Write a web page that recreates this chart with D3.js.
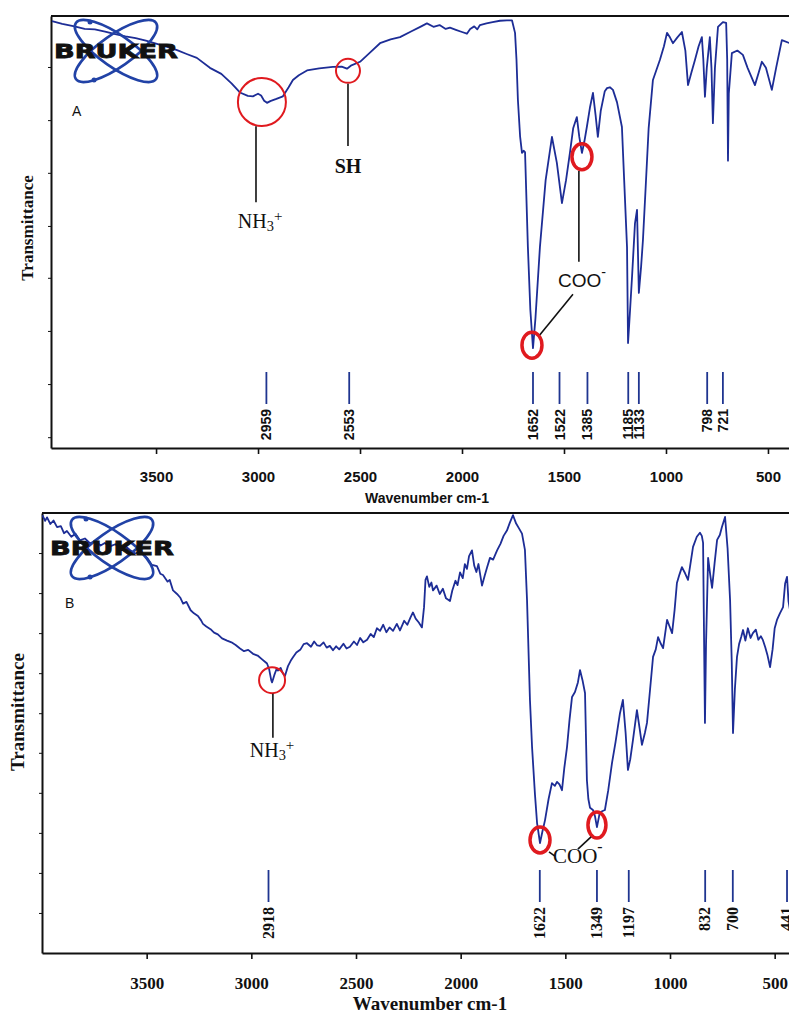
<!DOCTYPE html>
<html>
<head>
<meta charset="utf-8">
<script src="https://cdn.jsdelivr.net/npm/d3@7"></script>
<style>
  body { margin: 0; background: #fff; }
  svg { display: block; }
</style>
</head>
<body>
<div id="chart"></div>
<script>
// wavenumber ticks shared by both spectra
const xTicks = [3500, 3000, 2500, 2000, 1500, 1000, 500];

// spectrum A : [wavenumber, transmittance (0-100, arbitrary)]
const specA = [
  [4010,98.8],[3960,98.2],[3900,97.6],[3850,97.0],[3800,96.9],[3750,96.4],[3700,95.8],[3650,95.3],
  [3600,94.9],[3550,94.3],[3500,93.6],[3450,92.9],[3397,92.1],[3350,91.2],[3300,90.3],[3236,88.0],
  [3180,86.6],[3130,84.4],[3089,82.3],[3050,81.5],[3025,81.4],[3000,82.0],[2985,81.6],[2970,80.4],
  [2956,79.9],[2940,80.3],[2910,80.8],[2878,81.4],[2850,83.5],[2829,85.2],[2800,86.3],[2760,87.4],
  [2700,87.9],[2633,88.2],[2590,88.3],[2564,87.8],[2545,88.5],[2500,89.4],[2450,91.6],[2402,93.7],
  [2350,94.6],[2304,95.1],[2250,96.4],[2200,97.6],[2172,98.3],[2140,97.5],[2110,97.9],[2080,97.0],
  [2059,97.3],[2030,96.8],[2000,96.3],[1976,95.9],[1960,97.0],[1940,97.6],[1925,96.9],[1912,97.9],
  [1880,98.3],[1850,98.6],[1814,98.9],[1780,99.0],[1755,99.0],[1740,96.1],[1733,90],[1726,80.6],
  [1715,72],[1706,68.3],[1698,68.8],[1691,68.5],[1677,46.5],[1665,32],[1652,23.1],[1640,30],
  [1618,46.5],[1590,62],[1559,72.0],[1535,66],[1510,56.7],[1490,62],[1471,68.3],[1455,74],
  [1437,76.6],[1425,72],[1412,68.3],[1400,71],[1388,74.3],[1372,79],[1358,82.2],[1345,77],
  [1334,72.0],[1320,78],[1300,82.6],[1289,83.3],[1275,83.5],[1260,82.9],[1240,80],[1216,74.3],
  [1205,62],[1191,46.5],[1186,24.3],[1176,32],[1166,40],[1152,52],[1142,55.1],[1133,35.9],
  [1122,42],[1113,48.1],[1100,60],[1085,74],[1064,85.2],[1030,89.8],[1010,93],[995,96.1],
  [980,95],[966,93.7],[945,95],[922,96.3],[905,92],[892,84.0],[875,87],[858,89.8],[840,93],
  [824,95.1],[817,90],[809,81.3],[800,88],[785,95.1],[777,88],[770,75.2],[760,88],[745,97.5],
  [721,98.6],[705,98.4],[700,90],[696,66.5],[692,82],[677,91.4],[650,92],[623,91.0],[600,88],
  [564,84.0],[545,87],[530,89.4],[510,88],[481,82.9],[460,88],[432,94.4],[392,93.7]
];
const peaksA = [2959, 2553, 1652, 1522, 1385, 1185, 1133, 798, 721];
const yTicksA = [88.2, 75.9, 63.7, 51.4, 39.4, 27.1, 14.8, 2.5];

// spectrum B
const specB = [
  [3998,99.5],[3985,98.2],[3976,99.0],[3960,97.5],[3945,98.3],[3928,96.8],[3910,97.0],[3895,95.4],
  [3881,95.9],[3860,94.6],[3840,95.3],[3820,93.8],[3795,94.2],[3770,93.1],[3745,93.6],[3720,92.6],
  [3700,93.2],[3675,92.4],[3650,92.9],[3620,91.9],[3600,92.4],[3580,91.6],[3555,90.8],[3530,91.2],
  [3498,89.8],[3475,88.2],[3451,87.9],[3435,86.2],[3422,85.9],[3400,84.4],[3390,84.8],[3374,82.4],
  [3355,81.6],[3340,80.8],[3326,79.4],[3310,79.8],[3290,77.9],[3274,77.2],[3255,76.6],[3240,75.6],
  [3231,74.8],[3215,74.2],[3195,73.6],[3178,72.8],[3160,72.4],[3140,71.5],[3116,71.0],[3095,70.6],
  [3075,70.0],[3054,69.2],[3035,68.6],[3015,68.9],[2992,68.0],[2970,67.6],[2950,66.8],[2935,66.2],
  [2925,65.8],[2915,64.5],[2905,62.0],[2901,61.5],[2890,63.2],[2880,64.5],[2873,64.2],[2860,64.8],
  [2850,63.6],[2839,63.0],[2825,65.2],[2812,66.4],[2801,67.2],[2785,68.3],[2765,69.0],[2750,70.2],
  [2734,70.4],[2715,69.6],[2700,70.8],[2685,69.9],[2672,69.8],[2655,70.6],[2640,69.4],[2625,69.8],
  [2610,68.8],[2595,69.7],[2580,69.0],[2560,70.3],[2545,69.2],[2529,69.6],[2510,70.8],[2495,70.0],
  [2480,71.6],[2465,70.6],[2447,71.2],[2430,72.5],[2415,71.8],[2400,73.8],[2385,73.2],[2370,74.6],
  [2355,72.9],[2340,74.0],[2323,73.2],[2305,74.8],[2290,73.3],[2270,75.5],[2255,74.6],[2240,76.2],
  [2228,77.4],[2215,76.0],[2200,75.1],[2185,74.0],[2175,78.6],[2168,84.8],[2161,85.6],[2150,83.2],
  [2140,84.2],[2132,82.4],[2115,83.5],[2100,81.6],[2085,82.8],[2070,80.6],[2051,80.0],[2040,82.4],
  [2025,84.6],[2015,83.6],[2003,86.5],[1990,85.2],[1980,88.4],[1970,87.3],[1960,90.2],[1946,91.5],
  [1935,88.0],[1925,86.6],[1915,88.4],[1898,83.5],[1885,85.8],[1874,87.6],[1860,89.8],[1845,89.4],
  [1826,91.5],[1810,93.0],[1795,94.8],[1779,96.0],[1765,97.8],[1750,99.5],[1735,97.6],[1720,96.4],
  [1707,95.3],[1693,91.6],[1683,80.2],[1669,57.5],[1659,46.8],[1645,36],[1635,29.5],[1621,25.0],
  [1610,27.5],[1597,30.2],[1580,35],[1564,38.6],[1550,38.0],[1540,38.9],[1528,38.3],[1516,37.0],
  [1505,42],[1492,46.8],[1480,53],[1468,58.2],[1454,59.3],[1440,61.5],[1430,64.3],[1418,62],
  [1406,59.1],[1397,39.3],[1390,35],[1382,33.0],[1368,32.5],[1358,31],[1349,28.6],[1335,32.0],
  [1311,32.5],[1295,37],[1277,43.2],[1260,48],[1239,54.5],[1225,57.5],[1212,50],[1201,41.6],
  [1190,44],[1177,48.4],[1158,55.2],[1145,51],[1134,47.3],[1120,50],[1110,52.3],[1095,60],
  [1081,67.3],[1068,69],[1057,71.8],[1045,70.4],[1033,69.3],[1014,75.7],[1002,74.2],[990,72.7],
  [978,78],[967,84.1],[955,86.0],[943,87.7],[928,86.3],[914,84.8],[900,89.2],[890,92.3],
  [872,94.6],[857,95.5],[848,94.8],[842,93.2],[837,70],[833,52.3],[828,70],[818,89.8],[808,86.0],
  [799,83.0],[787,88.6],[775,93.9],[762,95.0],[752,96.8],[737,99.1],[725,92],[713,80.2],[705,66],
  [699,50.0],[690,60],[680,67.3],[670,70.2],[660,71.8],[651,73.4],[640,71.0],[628,73.8],[615,71.6],
  [604,72.7],[590,73.5],[578,71.2],[566,72.0],[556,71.1],[545,69.5],[535,67.8],[522,65.0],[510,69],
  [500,73.8],[489,75.7],[475,77.2],[460,78.6],[450,84],[441,85.5],[434,80],[427,78.0]
];
const peaksB = [2918, 1622, 1349, 1197, 832, 700, 441];
const yTicksB = [90.9, 81.8, 72.7, 63.6, 54.5, 45.5, 36.4, 27.3, 18.2, 9.1];

const LINE = '#1d2d96';
const RED = '#e01a1f';

var svg = d3.select('#chart').append('svg')
    .attr('width', 789)
    .attr('height', 1016)
    .style('background', '#fff');

function logo(cx, cy) {
    var lg = svg.append('g').attr('transform', `translate(${cx},${cy})`);
    [35, -35].forEach(a => {
        lg.append('ellipse')
            .attr('rx', 49).attr('ry', 16)
            .attr('transform', `rotate(${a})`)
            .attr('fill', 'none')
            .attr('stroke', '#2142a6')
            .attr('stroke-width', 2.6);
    });
    lg.append('circle').attr('cx', -22).attr('cy', 29).attr('r', 2.5).attr('fill', '#2142a6');
    lg.append('circle').attr('cx', -26).attr('cy', -29).attr('r', 2.5).attr('fill', '#2142a6');
    lg.append('text')
        .attr('x', -62).attr('y', 7)
        .attr('textLength', 124).attr('lengthAdjust', 'spacingAndGlyphs')
        .style('font', 'bold 19px "DejaVu Sans"')
        .attr('fill', '#111').attr('stroke', '#111').attr('stroke-width', 0.8)
        .text('BRUKER');
}

// text with a subscript / superscript part, e.g. NH3+ or COO-
function chemText(sel, parts, size) {
    parts.forEach(p => {
        var t = sel.append('tspan').text(p[0]);
        if (p[1] == 'sub') t.attr('font-size', size * 0.72).attr('dy', size * 0.12);
        if (p[1] == 'sup') t.attr('font-size', size * 0.75).attr('dy', -size * 0.5);
    });
}

function panel(o) {
    var x = d3.scaleLinear().domain(o.xDomain).range([o.left, o.right]);
    var y = d3.scaleLinear().domain([0, 100]).range([o.bottom, o.top]);

    svg.append('clipPath').attr('id', 'clip' + o.name)
        .append('rect')
        .attr('x', o.left).attr('y', o.top - 1)
        .attr('width', o.right - o.left).attr('height', o.bottom - o.top + 1);

    var g = svg.append('g');

    // frame
    g.append('line')
        .attr('x1', o.left).attr('x2', o.right)
        .attr('y1', o.top).attr('y2', o.top)
        .attr('stroke', '#111').attr('stroke-width', 2);

    g.append('g')
        .attr('transform', `translate(0,${o.bottom})`)
        .call(d3.axisBottom(x).tickValues(xTicks).tickSize(6).tickSizeOuter(0)
            .tickPadding(o.tickPad).tickFormat(d3.format('d')))
        .call(a => a.select('.domain').attr('stroke', '#111').attr('stroke-width', 2))
        .call(a => a.selectAll('.tick line').attr('stroke', '#111').attr('stroke-width', 1.6))
        .selectAll('text')
        .attr('fill', '#111')
        .style('font', o.tickFont);

    g.append('g')
        .attr('transform', `translate(${o.left},0)`)
        .call(d3.axisLeft(y).tickValues(o.yTicks).tickSize(3).tickSizeOuter(0).tickFormat(''))
        .call(a => a.select('.domain').attr('stroke', '#111').attr('stroke-width', 2))
        .call(a => a.selectAll('.tick line').attr('stroke', '#111'));

    g.append('text')
        .attr('x', o.xLabelX).attr('y', o.xLabelY)
        .attr('text-anchor', 'middle')
        .attr('fill', '#111')
        .style('font', o.xLabelFont)
        .text('Wavenumber cm-1');

    g.append('text')
        .attr('transform', `translate(${o.yLabelX},${o.yLabelY}) rotate(-90)`)
        .attr('text-anchor', 'middle')
        .attr('fill', '#111')
        .style('font', o.yLabelFont)
        .text('Transmittance');

    // spectrum
    var line = d3.line().x(d => x(d[0])).y(d => y(d[1]));
    g.append('path')
        .datum(o.spec)
        .attr('clip-path', `url(#clip${o.name})`)
        .attr('d', line)
        .attr('fill', 'none')
        .attr('stroke', LINE)
        .attr('stroke-width', 1.8)
        .attr('stroke-linejoin', 'round');

    // peak markers
    var pk = g.selectAll('.peak' + o.name).data(o.peaks).enter().append('g');
    pk.append('line')
        .attr('x1', d => x(d)).attr('x2', d => x(d))
        .attr('y1', o.peakTop).attr('y2', o.peakTop + 32)
        .attr('stroke', '#1f3590').attr('stroke-width', 1.8);
    pk.append('text')
        .attr('transform', d => `translate(${x(d) + o.peakFontShift},${o.peakTop + 37}) rotate(-90)`)
        .attr('text-anchor', 'end')
        .attr('fill', '#111')
        .style('font', o.peakFont)
        .text(d => d);

    logo(o.left + o.logo[0], o.top + o.logo[1]);

    g.append('text')
        .attr('x', o.left + o.tag[0]).attr('y', o.top + o.tag[1])
        .attr('fill', '#111')
        .style('font', '14px "Liberation Sans"')
        .text(o.name);

    // annotations
    o.notes.forEach(n => {
        if (n.circle) {
            g.append('ellipse')
                .attr('cx', x(n.circle[0])).attr('cy', y(n.circle[1]))
                .attr('rx', n.circle[2]).attr('ry', n.circle[3])
                .attr('fill', 'none').attr('stroke', RED).attr('stroke-width', n.circle[4]);
        }
        (n.lines || []).forEach(l => {
            g.append('line')
                .attr('x1', x(l[0])).attr('y1', y(l[1]))
                .attr('x2', x(l[2])).attr('y2', y(l[3]))
                .attr('stroke', '#111').attr('stroke-width', 1.6);
        });
        if (n.text) {
            var t = g.append('text')
                .attr('x', x(n.text[0])).attr('y', y(n.text[1]))
                .attr('text-anchor', n.anchor || 'middle')
                .attr('fill', '#111')
                .style('font-family', n.family)
                .style('font-size', n.size + 'px')
                .style('font-weight', n.weight || 'normal');
            chemText(t, n.parts, n.size);
        }
    });
}

panel({
    name: 'A', xDomain: [4015, 392], left: 51, right: 790, top: 16, bottom: 448,
    spec: specA, peaks: peaksA, yTicks: yTicksA,
    tickPad: 17, tickFont: 'bold 15px "Liberation Sans"',
    xLabelX: 427, xLabelY: 503, xLabelFont: 'bold 14px "Liberation Sans"',
    yLabelX: 33, yLabelY: 228, yLabelFont: 'bold 17px "Liberation Serif"',
    peakTop: 372, peakFont: 'bold 14px "Liberation Sans"', peakFontShift: 5,
    logo: [65, 35], tag: [21, 100],
    notes: [
        { circle: [2981, 80.1, 24, 24, 2], lines: [[3010, 74.5, 3010, 56.9]],
          text: [2990, 50.9], parts: [['NH'], ['3', 'sub'], ['+', 'sup']],
          family: '"Liberation Serif"', size: 20 },
        { circle: [2559, 87.3, 12, 12, 2], lines: [[2559, 84.3, 2559, 69.9]],
          text: [2559, 63.7], parts: [['SH']], family: '"Liberation Serif"', size: 20, weight: 'bold' },
        { circle: [1412, 67.4, 10, 13, 3.5], lines: [[1427, 64.1, 1427, 43.1]],
          text: [1412, 37.3], parts: [['COO'], ['-', 'sup']], family: '"Liberation Sans"', size: 19 },
        { circle: [1657, 23.8, 10, 13, 3.5], lines: [[1618, 26.2, 1456, 35.6]] }
    ]
});

panel({
    name: 'B', xDomain: [4000, 422], left: 42, right: 791, top: 513, bottom: 953,
    spec: specB, peaks: peaksB, yTicks: yTicksB,
    tickPad: 18, tickFont: 'bold 17px "Liberation Serif"',
    xLabelX: 430, xLabelY: 1010, xLabelFont: 'bold 19px "Liberation Serif"',
    yLabelX: 24, yLabelY: 712, yLabelFont: 'bold 19px "Liberation Serif"',
    peakTop: 870, peakFont: 'bold 16px "Liberation Serif"', peakFontShift: 5,
    logo: [70, 35], tag: [23, 95],
    notes: [
        { circle: [2901, 62.0, 13, 13, 2], lines: [[2897, 58.9, 2897, 48.9]],
          text: [2901, 44.5], parts: [['NH'], ['3', 'sub'], ['+', 'sup']],
          family: '"Liberation Serif"', size: 20 },
        { circle: [1621, 25.7, 10, 13, 3.5], lines: [[1578, 23.0, 1550, 22.0]] },
        { circle: [1349, 29.1, 9, 13, 3.5], lines: [[1377, 26.4, 1440, 23.6]],
          text: [1559, 20.5], anchor: 'start', parts: [['COO'], ['-', 'sup']],
          family: '"Liberation Serif"', size: 21 }
    ]
});
</script>
</body>
</html>
